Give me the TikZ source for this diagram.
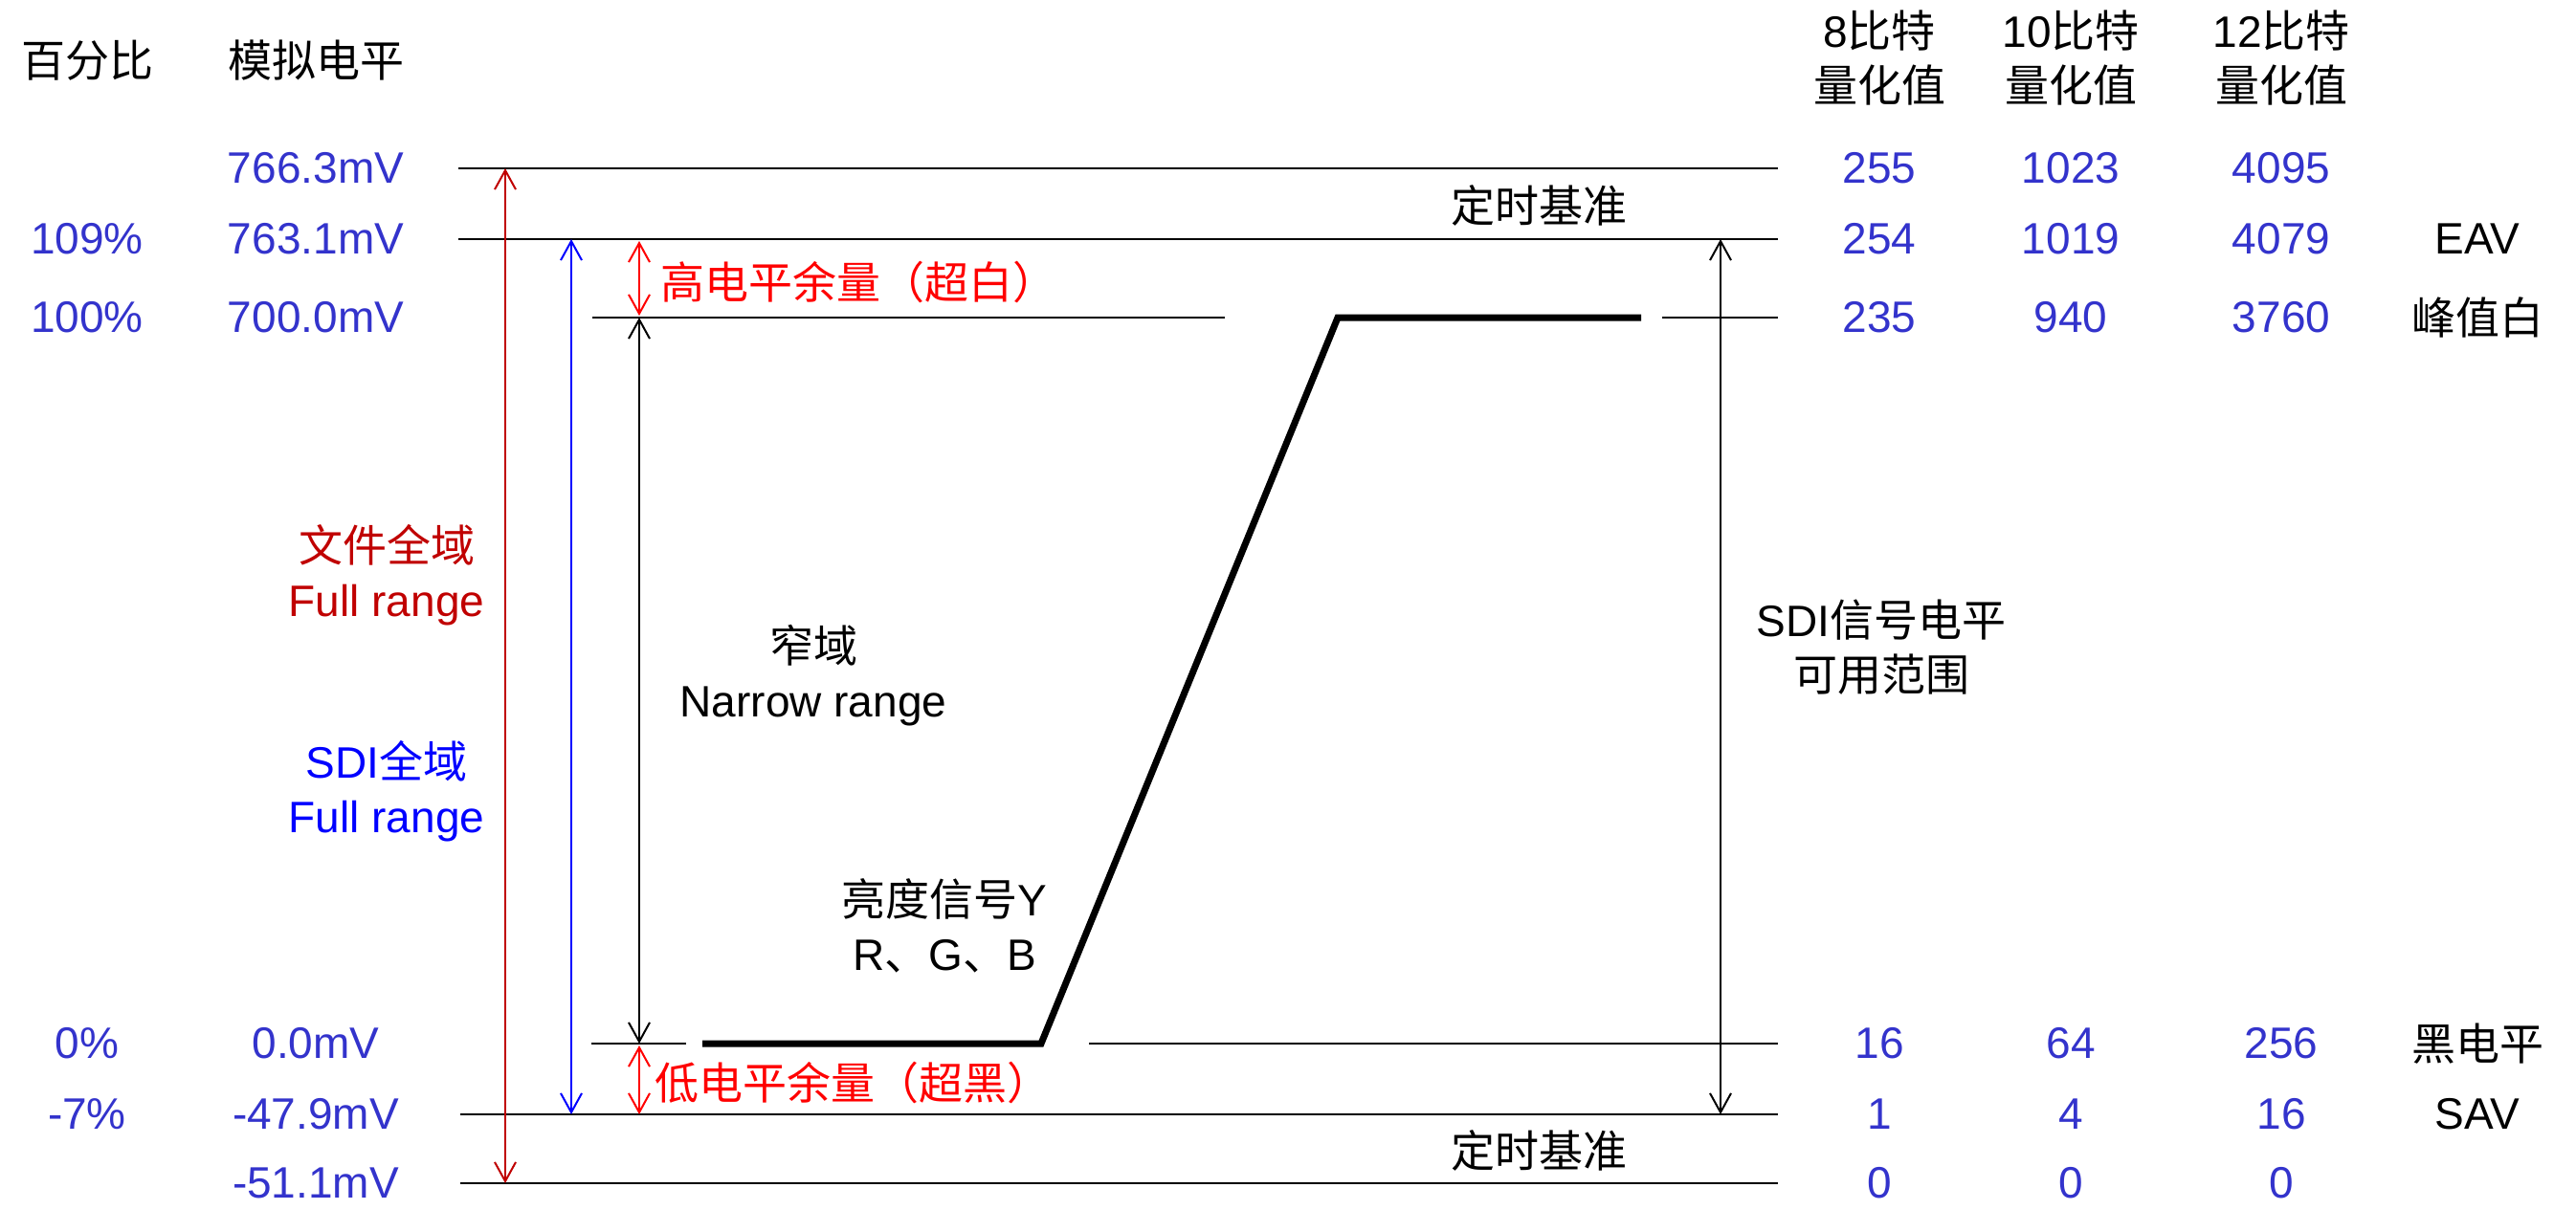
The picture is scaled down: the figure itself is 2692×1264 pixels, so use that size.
\documentclass[tikz,border=0pt]{standalone}
\usepackage{fontspec}
\setmainfont{Liberation Sans}
\newfontfamily\cjk{Noto Sans CJK SC}
\usetikzlibrary{arrows.meta}
\definecolor{numblue}{RGB}{51,51,204}
\definecolor{darkred}{RGB}{192,0,0}
\definecolor{brightred}{RGB}{255,0,0}
\definecolor{pureblue}{RGB}{0,0,255}
\begin{document}
\begin{tikzpicture}[x=1pt,y=-1pt,
  txt/.style={font=\fontsize{46}{57}\selectfont, inner sep=0pt, align=center},
  num/.style={txt, text=numblue},
  lvl/.style={line width=2.5pt},
  sig/.style={line width=7pt, line join=miter},
  dimarrow/.style={line width=2pt, {Straight Barb[length=20pt,width=22pt]}-{Straight Barb[length=20pt,width=22pt]}},
]
\useasboundingbox (0,0) rectangle (2692,1264);

% ---- level lines ----
\coordinate (aL) at (479,176);  \coordinate (aR) at (1858,176);
\coordinate (bL) at (479,250);  \coordinate (bR) at (1858,250);
\coordinate (cL) at (619,332);  \coordinate (cM) at (1280,332);
\coordinate (cN) at (1737,332); \coordinate (cR) at (1858,332);
\coordinate (dL) at (618,1091); \coordinate (dM) at (717,1091);
\coordinate (dN) at (1138,1091);\coordinate (dR) at (1858,1091);
\coordinate (eL) at (481,1165); \coordinate (eR) at (1858,1165);
\coordinate (fL) at (481,1237); \coordinate (fR) at (1858,1237);
\draw[lvl] (aL) -- (aR);
\draw[lvl] (bL) -- (bR);
\draw[lvl] (cL) -- (cM);
\draw[lvl] (cN) -- (cR);
\draw[lvl] (dL) -- (dM);
\draw[lvl] (dN) -- (dR);
\draw[lvl] (eL) -- (eR);
\draw[lvl] (fL) -- (fR);

% ---- signal ----
\coordinate (s0) at (734,1091);
\coordinate (s1) at (1088,1091);
\coordinate (s2) at (1398,332);
\coordinate (s3) at (1715,332);
\draw[sig] (s0) -- (s1) -- (s2) -- (s3);

% ---- dimension arrows ----
\coordinate (rT) at (528,176);  \coordinate (rB) at (528,1237);
\coordinate (uT) at (597,250);  \coordinate (uB) at (597,1165);
\coordinate (kT) at (668,332);  \coordinate (kB) at (668,1091);
\coordinate (hT) at (668,252);  \coordinate (hB) at (668,330);
\coordinate (lT) at (668,1093); \coordinate (lB) at (668,1165);
\coordinate (sT) at (1798,250); \coordinate (sB) at (1798,1165);
\draw[dimarrow, darkred] (rT) -- (rB);
\draw[dimarrow, pureblue] (uT) -- (uB);
\draw[dimarrow, black] (kT) -- (kB);
\draw[dimarrow, brightred] (hT) -- (hB);
\draw[dimarrow, brightred] (lT) -- (lB);
\draw[dimarrow, black] (sT) -- (sB);

% ---- headers ----
\node[txt] (hPct) at (92,63) {\cjk 百分比};
\node[txt] (hAna) at (330,63) {\cjk 模拟电平};
\node[txt] (h8) at (1964,60) {8{\cjk 比特}\\{\cjk 量化值}};
\node[txt] (h10) at (2164,60) {10{\cjk 比特}\\{\cjk 量化值}};
\node[txt] (h12) at (2384,60) {12{\cjk 比特}\\{\cjk 量化值}};

% ---- percent column ----
\node[num] (p1) at (91,250) {109\%};
\node[num] (p2) at (91,332) {100\%};
\node[num] (p3) at (91,1091) {0\%};
\node[num] (p4) at (91,1165) {-7\%};

% ---- mV column ----
\node[num] (m1) at (330,176) {766.3mV};
\node[num] (m2) at (330,250) {763.1mV};
\node[num] (m3) at (330,332) {700.0mV};
\node[num] (m4) at (330,1091) {0.0mV};
\node[num] (m5) at (330,1165) {-47.9mV};
\node[num] (m6) at (330,1237) {-51.1mV};

% ---- 8 bit ----
\node[num] (a1) at (1964,176) {255};
\node[num] (a2) at (1964,250) {254};
\node[num] (a3) at (1964,332) {235};
\node[num] (a4) at (1964,1091) {16};
\node[num] (a5) at (1964,1165) {1};
\node[num] (a6) at (1964,1237) {0};
% ---- 10 bit ----
\node[num] (b1) at (2164,176) {1023};
\node[num] (b2) at (2164,250) {1019};
\node[num] (b3) at (2164,332) {940};
\node[num] (b4) at (2164,1091) {64};
\node[num] (b5) at (2164,1165) {4};
\node[num] (b6) at (2164,1237) {0};
% ---- 12 bit ----
\node[num] (c1) at (2384,176) {4095};
\node[num] (c2) at (2384,250) {4079};
\node[num] (c3) at (2384,332) {3760};
\node[num] (c4) at (2384,1091) {256};
\node[num] (c5) at (2384,1165) {16};
\node[num] (c6) at (2384,1237) {0};

% ---- right names ----
\node[txt] (nEAV) at (2589,250) {EAV};
\node[txt] (nPW) at (2589,332) {\cjk 峰值白};
\node[txt] (nBL) at (2589,1091) {\cjk 黑电平};
\node[txt] (nSAV) at (2589,1165) {SAV};

% ---- inner labels ----
\node[txt] (tTop) at (1608,215) {\cjk 定时基准};
\node[txt] (tBot) at (1608,1203) {\cjk 定时基准};
\node[txt, text=brightred, anchor=west] (hiM) at (690,295) {\cjk 高电平余量（超白）};
\node[txt, text=brightred, anchor=west] (loM) at (684,1132) {\cjk 低电平余量（超黑）};
\node[txt, text=darkred] (fr) at (404,601) {{\cjk 文件全域}\\Full range};
\node[txt, text=pureblue] (sdi) at (404,827) {SDI{\cjk 全域}\\Full range};
\node[txt] (nr) at (850,706) {{\cjk 窄域}\\Narrow range};
\node[txt] (lum) at (987,968) {{\cjk 亮度信号}Y\\R{\cjk 、}G{\cjk 、}B};
\node[txt] (sdiu) at (1966,677) {SDI{\cjk 信号电平}\\{\cjk 可用范围}};
\end{tikzpicture}
\end{document}
